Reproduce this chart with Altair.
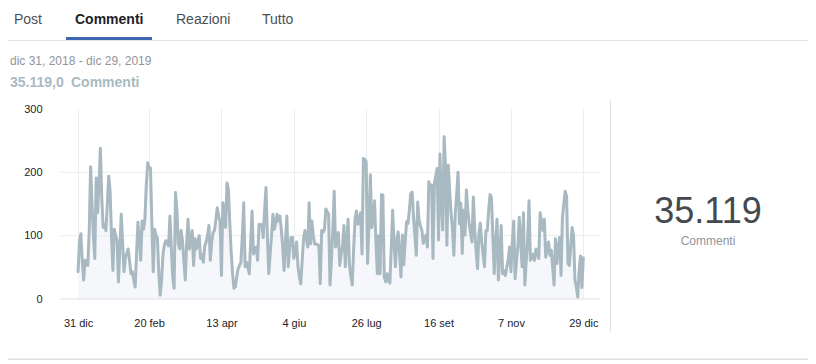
import altair as alt
import pandas as pd

# ---------------- data ----------------
values = [
    43, 92, 103, 60, 30, 61, 55, 53, 108, 209, 150, 100, 64, 191, 136, 180, 238, 160, 113, 118,
    108, 150, 194, 170, 100, 45, 110, 100, 92, 27, 80, 134, 90, 43, 66, 72, 79, 60, 40, 43,
    30, 19, 70, 121, 95, 61, 123, 110, 126, 180, 215, 207, 207, 120, 43, 110, 100, 97, 40, 6,
    30, 71, 85, 92, 88, 84, 131, 80, 35, 17, 168, 140, 87, 79, 108, 92, 60, 30, 87, 126,
    79, 95, 108, 53, 95, 79, 90, 100, 64, 70, 58, 84, 90, 100, 116, 61, 90, 105, 108, 125,
    144, 130, 123, 37, 152, 140, 113, 183, 173, 120, 74, 40, 17, 19, 35, 48, 53, 58, 100, 152,
    51, 58, 50, 40, 90, 139, 71, 80, 82, 61, 118, 115, 118, 97, 140, 176, 100, 40, 71, 100,
    134, 110, 120, 134, 123, 131, 110, 84, 45, 90, 131, 51, 80, 97, 97, 64, 75, 90, 51, 35,
    24, 60, 95, 108, 95, 82, 152, 87, 123, 100, 87, 87, 86, 84, 24, 108, 105, 110, 142, 138,
    134, 22, 60, 108, 170, 82, 95, 105, 53, 70, 84, 116, 51, 90, 126, 53, 35, 22, 80, 126,
    139, 118, 125, 136, 71, 222, 220, 217, 56, 120, 196, 113, 130, 155, 90, 40, 100, 40, 165, 164,
    35, 27, 40, 30, 25, 80, 140, 90, 51, 93, 106, 70, 35, 101, 54, 90, 122, 119, 140, 166,
    169, 130, 101, 69, 153, 124, 115, 109, 88, 95, 101, 82, 185, 175, 180, 64, 182, 195, 206, 93,
    229, 160, 109, 256, 208, 85, 211, 170, 135, 111, 69, 135, 165, 200, 119, 151, 72, 140, 101, 172,
    140, 119, 105, 90, 161, 109, 75, 48, 103, 120, 90, 70, 51, 108, 108, 140, 165, 160, 100, 40,
    87, 126, 30, 70, 116, 40, 45, 37, 50, 61, 82, 43, 90, 123, 32, 60, 84, 129, 90, 51,
    136, 22, 60, 92, 155, 61, 65, 71, 61, 79, 72, 64, 136, 120, 108, 126, 66, 80, 90, 69,
    77, 50, 22, 95, 56, 80, 97, 37, 129, 150, 170, 162, 56, 53, 85, 113, 100, 30, 19, 3,
    45, 68, 18, 65,
]
days = list(range(len(values)))

tick_days = [0, 51, 103, 155, 207, 259, 311, 363]
tick_labels = ["31 dic", "20 feb", "13 apr", "4 giu", "26 lug", "16 set", "7 nov", "29 dic"]
y_ticks = [0, 100, 200, 300]
y_grid = [100, 200]

tabs = ["Post", "Commenti", "Reazioni", "Tutto"]
date_range = "dic 31, 2018 - dic 29, 2019"
total_small_num = "35.119,0"
total_small_unit = "Commenti"
total_big = "35.119"
total_label = "Commenti"

df = pd.DataFrame({"day": days, "value": values})

W, H = 540, 190
FONT = "Liberation Sans"

label_expr = "{}[indexof({}, datum.value)]".format(
    "[" + ",".join("'%s'" % s for s in tick_labels) + "]",
    "[" + ",".join(str(d) for d in tick_days) + "]",
)

x_enc = alt.X(
    "day:Q",
    scale=alt.Scale(domain=[-13, 375], nice=False, zero=False),
    axis=alt.Axis(
        values=tick_days, labelExpr=label_expr, title=None, grid=True,
        gridColor="#ebedf0", gridWidth=1, domain=False, ticks=False, tickSize=0,
        labelPadding=18, labelFontSize=11, labelColor="#1d2129", labelFont=FONT,
    ),
)
y_enc = alt.Y(
    "value:Q",
    scale=alt.Scale(domain=[0, 300], nice=False),
    axis=alt.Axis(
        values=y_ticks, title=None, grid=False, domain=False, ticks=False, tickSize=0,
        labelPadding=18, labelFontSize=11, labelColor="#1d2129", labelFont=FONT,
    ),
)

area = alt.Chart(df).mark_area(color="#f5f7fa", opacity=1).encode(x=x_enc, y=y_enc)
line = alt.Chart(df).mark_line(
    color="#a8b9c1", strokeWidth=3, strokeJoin="round", strokeCap="round"
).encode(x="day:Q", y="value:Q")

grid = alt.Chart(pd.DataFrame({"g": y_grid})).mark_rule(color="#ebedf0", strokeWidth=1).encode(
    y="g:Q", x=alt.value(0), x2=alt.value(W)
)
base = alt.Chart(pd.DataFrame({"g": [0]})).mark_rule(color="#dddfe2", strokeWidth=1).encode(
    y="g:Q", x=alt.value(0), x2=alt.value(W)
)


def txt(s, x, y, size, color, weight="normal", align="left"):
    return alt.Chart(pd.DataFrame({"t": [s]})).mark_text(
        font=FONT, fontSize=size, color=color, fontWeight=weight, align=align,
        baseline="alphabetic",
    ).encode(x=alt.value(x), y=alt.value(y), text="t:N")


def hrule(x1, x2, y, color, width):
    return alt.Chart(pd.DataFrame({"a": [0]})).mark_rule(color=color, strokeWidth=width).encode(
        x=alt.value(x1), x2=alt.value(x2), y=alt.value(y)
    )


def vrule(x, y1, y2, color, width):
    return alt.Chart(pd.DataFrame({"a": [0]})).mark_rule(color=color, strokeWidth=width).encode(
        x=alt.value(x), y=alt.value(y1), y2=alt.value(y2)
    )


OX, OY = 60, 109  # page position of plot origin
TOTAL_H = 352

tab_x = [14, 75, 176, 262]
layers = [area, grid, base, line]
for name, tx in zip(tabs, tab_x):
    if name == "Commenti":
        layers.append(txt(name, tx - OX, 24 - OY, 14, "#1d2129", "bold"))
    else:
        layers.append(txt(name, tx - OX, 24 - OY, 14, "#4b4f56"))

layers += [
    hrule(-OX, 816 - OX, 40.5 - OY, "#dddfe2", 1),
    hrule(66 - OX, 152 - OX, 38.5 - OY, "#4267b2", 3),
    txt(date_range, 10 - OX, 65 - OY, 12, "#90949c"),
    txt(total_small_num, 10 - OX, 87 - OY, 14, "#a8bac3", "bold"),
    txt(total_small_unit, 71 - OX, 87 - OY, 14, "#a8bac3", "bold"),
    vrule(610.5 - OX, 100 - OY, 332 - OY, "#dddfe2", 1),
    txt(total_big, 708 - OX, 223 - OY, 36, "#444950", align="center"),
    txt(total_label, 708 - OX, 245 - OY, 12, "#90949c", align="center"),
    hrule(-OX, 816 - OX, 359.5 - OY, "#dddfe2", 2),
]

chart = alt.layer(*layers).properties(
    width=W, height=H,
    background="white",
    autosize=alt.AutoSizeParams(type="none"),
    padding={"left": OX - 8, "top": OY - 8, "right": 800 - (OX - 8) - W,
             "bottom": TOTAL_H - (OY - 8) - H},
).configure_view(stroke=None)

chart.save("out.html", embed_options={"renderer": "svg", "actions": False})
